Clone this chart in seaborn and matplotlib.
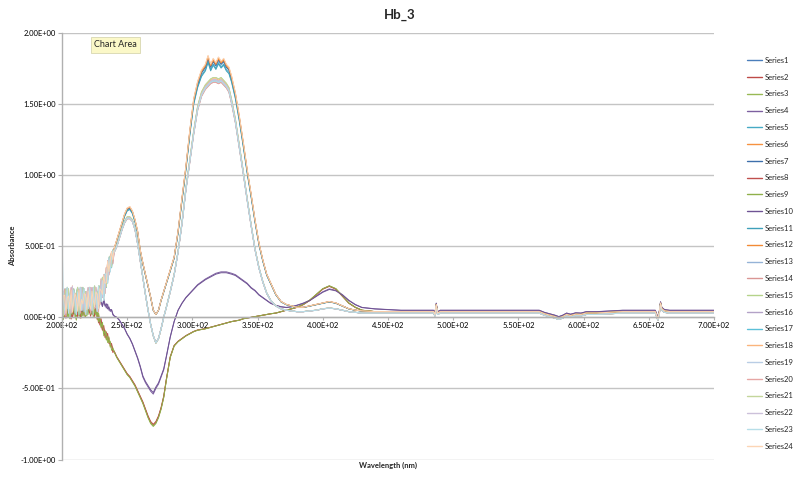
import matplotlib
matplotlib.use("Agg")
import matplotlib.pyplot as plt
from matplotlib.lines import Line2D
from matplotlib.ticker import FuncFormatter, MultipleLocator
import pandas as pd
import seaborn as sns

# ---------------- data ----------------
wl_noise = list(range(200, 241))
wl_main = [242, 244, 246, 248, 250, 252, 254, 256, 258, 260,
           262, 264, 266, 268, 270, 272, 274, 276, 278, 280,
           283, 286, 289, 292, 295, 298, 301, 304, 307, 310,
           312, 314, 316, 318, 320, 322, 324, 326, 328, 330,
           333, 336, 339, 342, 345, 348, 351, 354, 357, 360,
           364, 368, 372, 376, 380, 385, 390, 395, 400, 405,
           410, 415, 420, 425, 430, 440, 450, 460, 470, 480,
           485, 486, 487, 488, 490, 500, 520, 540, 560, 566,
           570, 574, 578, 581, 584, 587, 590, 594, 598, 602,
           610, 620, 630, 640, 650, 655, 657, 658, 659, 660,
           662, 666, 680, 700]

# group A: main curves (blue / orange)
groupA_noise = [0.10, 0.11, 0.09, 0.10, 0.12, 0.10, 0.09, 0.11, 0.10, 0.12,
                0.11, 0.10, 0.09, 0.11, 0.12, 0.10, 0.11, 0.10, 0.12, 0.11,
                0.10, 0.11, 0.12, 0.11, 0.10, 0.12, 0.12, 0.13, 0.14, 0.15,
                0.17, 0.20, 0.23, 0.26, 0.29, 0.32, 0.35, 0.38, 0.41, 0.44, 0.48]
groupA_main = [0.54, 0.60, 0.66, 0.72, 0.76, 0.77, 0.74, 0.68, 0.60, 0.47,
               0.38, 0.30, 0.22, 0.14, 0.05, 0.02, 0.05, 0.12, 0.18, 0.24,
               0.33, 0.42, 0.60, 0.83, 1.05, 1.30, 1.52, 1.64, 1.72, 1.76,
               1.82, 1.76, 1.80, 1.77, 1.81, 1.78, 1.80, 1.76, 1.74, 1.68,
               1.56, 1.40, 1.22, 1.03, 0.86, 0.68, 0.52, 0.40, 0.30, 0.24,
               0.16, 0.11, 0.09, 0.08, 0.07, 0.07, 0.08, 0.09, 0.10, 0.11,
               0.10, 0.08, 0.06, 0.05, 0.045, 0.04, 0.04, 0.04, 0.04, 0.04,
               0.04, 0.02, 0.09, 0.03, 0.04, 0.04, 0.04, 0.04, 0.04, 0.04,
               0.025, 0.015, 0.005, -0.005, 0.005, 0.02, 0.012, 0.022, 0.02, 0.03,
               0.03, 0.035, 0.04, 0.04, 0.04, 0.04, -0.01, 0.03, 0.10, 0.06,
               0.045, 0.04, 0.04, 0.04]

# group B: light grey curves
groupB_noise = [0.11, 0.10, 0.12, 0.10, 0.11, 0.12, 0.10, 0.11, 0.12, 0.11,
                0.10, 0.12, 0.11, 0.10, 0.12, 0.11, 0.12, 0.10, 0.11, 0.12,
                0.11, 0.12, 0.11, 0.12, 0.11, 0.12, 0.12, 0.13, 0.14, 0.15,
                0.17, 0.19, 0.22, 0.25, 0.28, 0.31, 0.34, 0.37, 0.40, 0.43, 0.46]
groupB_main = [0.50, 0.56, 0.62, 0.67, 0.70, 0.70, 0.68, 0.62, 0.52, 0.40,
               0.28, 0.16, 0.05, -0.05, -0.13, -0.18, -0.15, -0.08, 0.00, 0.07,
               0.18, 0.30, 0.46, 0.66, 0.90, 1.10, 1.30, 1.47, 1.57, 1.62,
               1.64, 1.66, 1.67, 1.67, 1.66, 1.67, 1.65, 1.63, 1.60, 1.52,
               1.38, 1.20, 1.02, 0.83, 0.65, 0.48, 0.35, 0.25, 0.17, 0.12,
               0.08, 0.06, 0.05, 0.045, 0.04, 0.04, 0.045, 0.05, 0.06, 0.065,
               0.06, 0.05, 0.04, 0.035, 0.03, 0.03, 0.03, 0.03, 0.03, 0.03,
               0.03, 0.01, 0.08, 0.02, 0.03, 0.03, 0.03, 0.03, 0.03, 0.03,
               0.015, 0.005, -0.005, -0.015, -0.005, 0.01, 0.002, 0.012, 0.01, 0.02,
               0.02, 0.025, 0.03, 0.03, 0.03, 0.03, -0.02, 0.02, 0.09, 0.05,
               0.035, 0.03, 0.03, 0.03]

# group C: purple curve
groupC_noise = [0.06, 0.05, 0.07, 0.06, 0.05, 0.07, 0.06, 0.05, 0.06, 0.07,
                0.05, 0.06, 0.07, 0.06, 0.05, 0.07, 0.06, 0.07, 0.08, 0.07,
                0.06, 0.08, 0.07, 0.08, 0.09, 0.08, 0.10, 0.09, 0.10, 0.11,
                0.10, 0.09, 0.11, 0.10, 0.08, 0.07, 0.06, 0.05, 0.04, 0.03, 0.01]
groupC_main = [0.00, -0.02, -0.05, -0.08, -0.12, -0.15, -0.19, -0.24, -0.29, -0.35,
               -0.42, -0.46, -0.49, -0.52, -0.54, -0.50, -0.47, -0.42, -0.37, -0.28,
               -0.14, -0.03, 0.05, 0.10, 0.14, 0.17, 0.20, 0.23, 0.25, 0.27,
               0.28, 0.29, 0.30, 0.31, 0.315, 0.32, 0.32, 0.32, 0.315, 0.31,
               0.30, 0.28, 0.26, 0.24, 0.21, 0.19, 0.16, 0.14, 0.12, 0.10,
               0.085, 0.075, 0.07, 0.075, 0.085, 0.10, 0.12, 0.15, 0.18, 0.20,
               0.19, 0.16, 0.12, 0.09, 0.07, 0.06, 0.055, 0.05, 0.05, 0.05,
               0.05, 0.03, 0.10, 0.04, 0.05, 0.05, 0.05, 0.05, 0.05, 0.05,
               0.035, 0.025, 0.015, 0.005, 0.015, 0.03, 0.022, 0.032, 0.03, 0.04,
               0.04, 0.045, 0.05, 0.05, 0.05, 0.05, 0.0, 0.04, 0.11, 0.07,
               0.055, 0.05, 0.05, 0.05]

# group D: olive curves (red + green overlapping)
groupD_noise = [0.03, 0.02, 0.04, 0.03, 0.02, 0.04, 0.03, 0.02, 0.03, 0.04,
                0.03, 0.02, 0.03, 0.04, 0.03, 0.02, 0.04, 0.03, 0.04, 0.05,
                0.04, 0.05, 0.04, 0.05, 0.04, 0.03, 0.03, 0.02, 0.00, -0.03,
                -0.05, -0.07, -0.09, -0.11, -0.13, -0.15, -0.17, -0.19, -0.21, -0.23, -0.24]
groupD_main = [-0.28, -0.31, -0.34, -0.37, -0.40, -0.42, -0.45, -0.48, -0.52, -0.56,
               -0.60, -0.65, -0.70, -0.74, -0.76, -0.74, -0.70, -0.64, -0.56, -0.44,
               -0.28, -0.20, -0.17, -0.15, -0.13, -0.115, -0.10, -0.09, -0.085, -0.08,
               -0.075, -0.07, -0.065, -0.06, -0.055, -0.05, -0.045, -0.04, -0.035, -0.03,
               -0.025, -0.02, -0.01, -0.005, 0.00, 0.005, 0.01, 0.015, 0.02, 0.025,
               0.03, 0.04, 0.05, 0.06, 0.07, 0.09, 0.12, 0.16, 0.20, 0.22,
               0.20, 0.15, 0.10, 0.07, 0.05, 0.04, 0.04, 0.04, 0.04, 0.04,
               0.04, 0.02, 0.09, 0.03, 0.04, 0.04, 0.04, 0.04, 0.04, 0.04,
               0.025, 0.015, 0.005, -0.005, 0.005, 0.02, 0.012, 0.022, 0.02, 0.03,
               0.03, 0.035, 0.04, 0.04, 0.04, 0.04, -0.01, 0.03, 0.10, 0.06,
               0.045, 0.04, 0.04, 0.04]

# measurement noise seen at 200-240 nm (typed pattern, -1..1)
jitter0 = [0.6, -0.9, 0.3, 1.0, -0.5, 0.8, -1.0, 0.4, -0.2, 0.9, -0.7, 0.5, 1.0, -0.8,
           0.2, -0.4, 0.9, -0.6, 0.7, -1.0, 0.3, 0.8, -0.5, 0.6, -0.9, 1.0, -0.3, 0.5,
           -0.8, 0.7, -0.4, 0.9, -0.6, 0.3, -0.7, 0.5, -0.2, 0.6, -0.5, 0.3, 0.0]
jitter1 = [-0.4, 0.8, -1.0, 0.5, 0.9, -0.6, 0.2, -0.8, 1.0, -0.3, 0.6, -0.9, 0.4, 0.7,
           -0.5, 1.0, -0.7, 0.3, -0.9, 0.6, 0.8, -0.4, 1.0, -0.7, 0.5, -0.2, 0.9, -0.8,
           0.4, -0.6, 1.0, -0.5, 0.3, -0.8, 0.7, -0.4, 0.6, -0.3, 0.5, -0.2, 0.0]
jitter2 = [0.9, 0.2, -0.7, -0.3, 1.0, -0.9, 0.6, 0.1, -0.5, 0.8, 0.3, -1.0, 0.7, -0.2,
           0.9, -0.6, 0.4, 1.0, -0.8, 0.2, -0.5, 0.9, 0.1, -0.7, 1.0, -0.4, 0.6, -0.9,
           0.8, 0.2, -0.6, 0.7, -1.0, 0.5, 0.3, -0.7, 0.8, -0.5, 0.2, 0.4, 0.0]
jitter3 = [-0.7, 0.5, 0.8, -0.9, 0.2, 0.6, -0.4, 1.0, -0.8, -0.1, 0.7, 0.4, -0.6, 1.0,
           -0.9, 0.3, -0.2, 0.8, 0.5, -0.7, 1.0, -0.3, -0.8, 0.9, 0.2, -0.6, 0.7, 0.4,
           -1.0, 0.6, 0.2, -0.5, 0.8, -0.3, -0.6, 0.9, -0.4, 0.2, 0.6, -0.5, 0.0]

series_names = [f"Series{i}" for i in range(1, 25)]
series_group = ["A", "D", "D", "C", "A", "A", "A", "D", "D", "C", "A", "A",
                "B", "B", "B", "B", "B", "B", "B", "B", "B", "B", "B", "A"]
series_scale = [1.00, 1.00, 1.00, 1.00, 0.99, 1.01, 1.00, 0.99, 1.01, 0.98, 0.985, 1.005,
                1.00, 0.99, 1.01, 1.00, 0.995, 1.005, 1.00, 0.99, 1.01, 1.00, 0.995, 1.012]
series23_first_value = 0.63
colors = ["#4a7ebb", "#be4b48", "#98b954", "#7d60a0", "#46aac5", "#f69240",
          "#3d6fab", "#c0504d", "#8fb04a", "#6f5394", "#3fa0ba", "#f28a35",
          "#95b3d7", "#da9694", "#b5d38a", "#b3a2c7", "#5cc0d8", "#fab47c",
          "#b9cde5", "#e6a6a4", "#c3d69b", "#ccc1da", "#b7dee8", "#fcd5b5"]

# ---------------- assemble ----------------
groups = {"A": (groupA_noise, groupA_main, 0.08),
          "B": (groupB_noise, groupB_main, 0.10),
          "C": (groupC_noise, groupC_main, 0.025),
          "D": (groupD_noise, groupD_main, 0.04)}
jitters = [jitter0, jitter1, jitter2, jitter3]
wavelength = wl_noise + wl_main
for g in groups.values():
    assert len(g[0]) == len(wl_noise) and len(g[1]) == len(wl_main)

rows = []
for i, name in enumerate(series_names):
    gn, gm, amp = groups[series_group[i]]
    jit = jitters[i % 4]
    s = series_scale[i]
    vals = [s * (b + amp * j) for b, j in zip(gn, jit)] + [s * v for v in gm]
    if name == "Series23":
        vals[0] = series23_first_value
    for w, v in zip(wavelength, vals):
        rows.append((w, v, name))
df = pd.DataFrame(rows, columns=["Wavelength", "Absorbance", "Series"])

# ---------------- plot ----------------
sns.set_theme(style="white")
plt.rcParams["font.family"] = ["Lato", "DejaVu Sans"]

fig = plt.figure(figsize=(8.0, 4.78), dpi=100)
ax = fig.add_axes([0.0775, 0.0387, 0.815, 0.8923])

sns.lineplot(data=df, x="Wavelength", y="Absorbance", hue="Series",
             hue_order=series_names, palette=colors, estimator=None,
             sort=False, linewidth=0.7, legend=False, ax=ax)

ax.set_xlim(200, 700)
ax.set_ylim(-1.0, 2.0)
ax.xaxis.set_major_locator(MultipleLocator(50))
ax.yaxis.set_major_locator(MultipleLocator(0.5))
fmt = FuncFormatter(lambda v, p: f"{v:.2E}")
ax.xaxis.set_major_formatter(fmt)
ax.yaxis.set_major_formatter(fmt)
ax.grid(axis="y", color="#c4c4c4", linewidth=1.0)
ax.grid(axis="x", visible=False)
ax.set_axisbelow(True)
for sp in ["top", "right"]:
    ax.spines[sp].set_visible(False)
ax.spines["bottom"].set_position(("data", 0))
ax.spines["bottom"].set_color("#b0b0b0")
ax.spines["left"].set_color("#b0b0b0")
ax.spines["bottom"].set_linewidth(1.0)
ax.spines["left"].set_linewidth(1.0)
ax.tick_params(axis="both", labelsize=5.5, colors="#b0b0b0", labelcolor="black",
               direction="out", length=3, width=0.8, pad=1.5)
ax.tick_params(axis="x", bottom=True, length=2)
ax.tick_params(axis="y", left=True)

ax.set_xlabel("Wavelength (nm)", fontsize=5.5, fontweight="bold")
ax.set_ylabel("Absorbance", fontsize=5.5, fontweight="bold")
ax.xaxis.set_label_coords(0.5, -0.006)
ax.yaxis.set_label_coords(-0.0705, 0.5)

fig.suptitle("Hb_3", fontsize=9.5, fontweight="bold", y=0.969, va="center")

handles = [Line2D([0], [0], color=c, lw=1.0) for c in colors]
fig.legend(handles, series_names, loc="center left", bbox_to_anchor=(0.929, 0.47),
           frameon=False, fontsize=5.5, handlelength=2.0, handletextpad=0.3,
           labelspacing=1.28, borderpad=0)

fig.text(0.1445, 0.906, "Chart Area", fontsize=6.5, ha="center", va="center",
         bbox=dict(boxstyle="square,pad=0.35", fc="#fbf8c8", ec="#d8d6b0", lw=0.6))

fig.savefig("out.png", dpi=100)
